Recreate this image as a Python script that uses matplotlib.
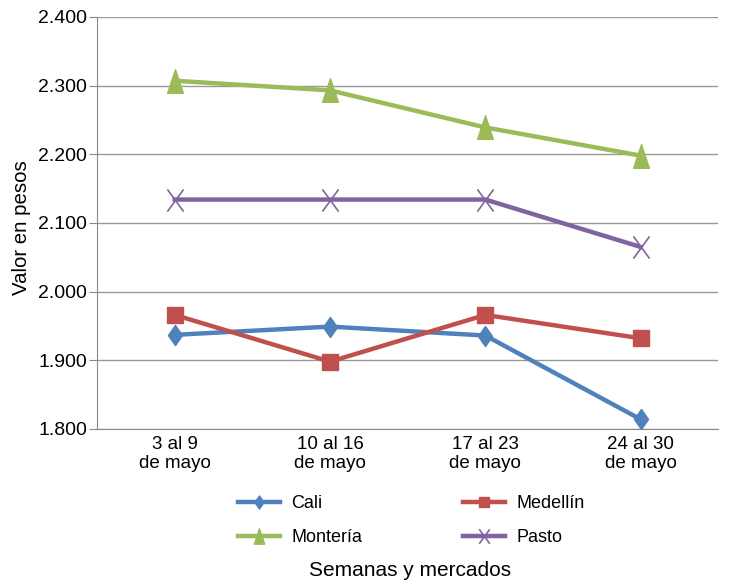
import matplotlib.pyplot as plt
from matplotlib.path import Path
from matplotlib.ticker import FuncFormatter

plt.rcParams['font.family'] = ['Liberation Sans', 'DejaVu Sans']

# Data
semanas = ['3 al 9\nde mayo', '10 al 16\nde mayo', '17 al 23\nde mayo', '24 al 30\nde mayo']
cali = [1937, 1949, 1936, 1814]
medellin = [1966, 1898, 1966, 1932]
monteria = [2307, 2293, 2239, 2198]
pasto = [2134, 2134, 2134, 2065]

# Excel-like markers (taller than wide)
diamante = Path([(0, 1), (0.7, 0), (0, -1), (-0.7, 0), (0, 1)], closed=True)
triangulo = Path([(0, 1), (0.67, -1), (-0.67, -1), (0, 1)], closed=True)
equis = Path([(-0.73, -1), (0.73, 1), (-0.73, 1), (0.73, -1)],
             [Path.MOVETO, Path.LINETO, Path.MOVETO, Path.LINETO])

fig = plt.figure(figsize=(7.3, 5.82), dpi=100)
ax = fig.add_axes([0.133, 0.263, 0.851, 0.708])

x = range(len(semanas))
l1, = ax.plot(x, cali, color='#4F81BD', lw=3.2, marker=diamante, ms=14.5, label='Cali')
l2, = ax.plot(x, medellin, color='#C0504D', lw=3.2, marker='s', ms=11.5, label='Medellín')
l3, = ax.plot(x, monteria, color='#9BBB59', lw=3.2, marker=triangulo, ms=17, label='Montería')
l4, = ax.plot(x, pasto, color='#8064A2', lw=3.2, marker=equis, ms=16, mew=1.2,
              mfc='none', label='Pasto')

ax.set_xlim(-0.5, 3.5)
ax.set_ylim(1800, 2400)
ax.set_yticks(range(1800, 2401, 100))
ax.yaxis.set_major_formatter(FuncFormatter(lambda v, p: f'{v/1000:.3f}'))
ax.set_xticks(list(x))
ax.set_xticklabels(semanas)
ax.tick_params(axis='x', length=0, labelsize=13.5, pad=5)
ax.tick_params(axis='y', length=6, color='#888888', labelsize=14, pad=1)

ax.grid(axis='y', color='#999999', lw=1)
ax.set_axisbelow(True)
for s in ['top', 'right']:
    ax.spines[s].set_visible(False)
ax.spines['left'].set_color('#888888')
ax.spines['bottom'].set_color('#888888')

fig.text(22/730, 1 - 228/582, 'Valor en pesos', fontsize=14.7, rotation=90,
         ha='center', va='center')
fig.text(410/730, 1 - 571/582, 'Semanas y mercados', fontsize=15,
         ha='center', va='center')

# legend fills column by column: Cali/Montería left, Medellín/Pasto right
fig.legend([l1, l3, l2, l4], ['Cali', 'Montería', 'Medellín', 'Pasto'],
           loc='upper left', bbox_to_anchor=(238/730, 1 - 495/582), ncol=2,
           frameon=False, fontsize=13, borderpad=0, borderaxespad=0,
           columnspacing=5.6, handlelength=2.3, handletextpad=0.65,
           labelspacing=0.95, markerscale=0.65)

fig.savefig('out.png', dpi=100)
